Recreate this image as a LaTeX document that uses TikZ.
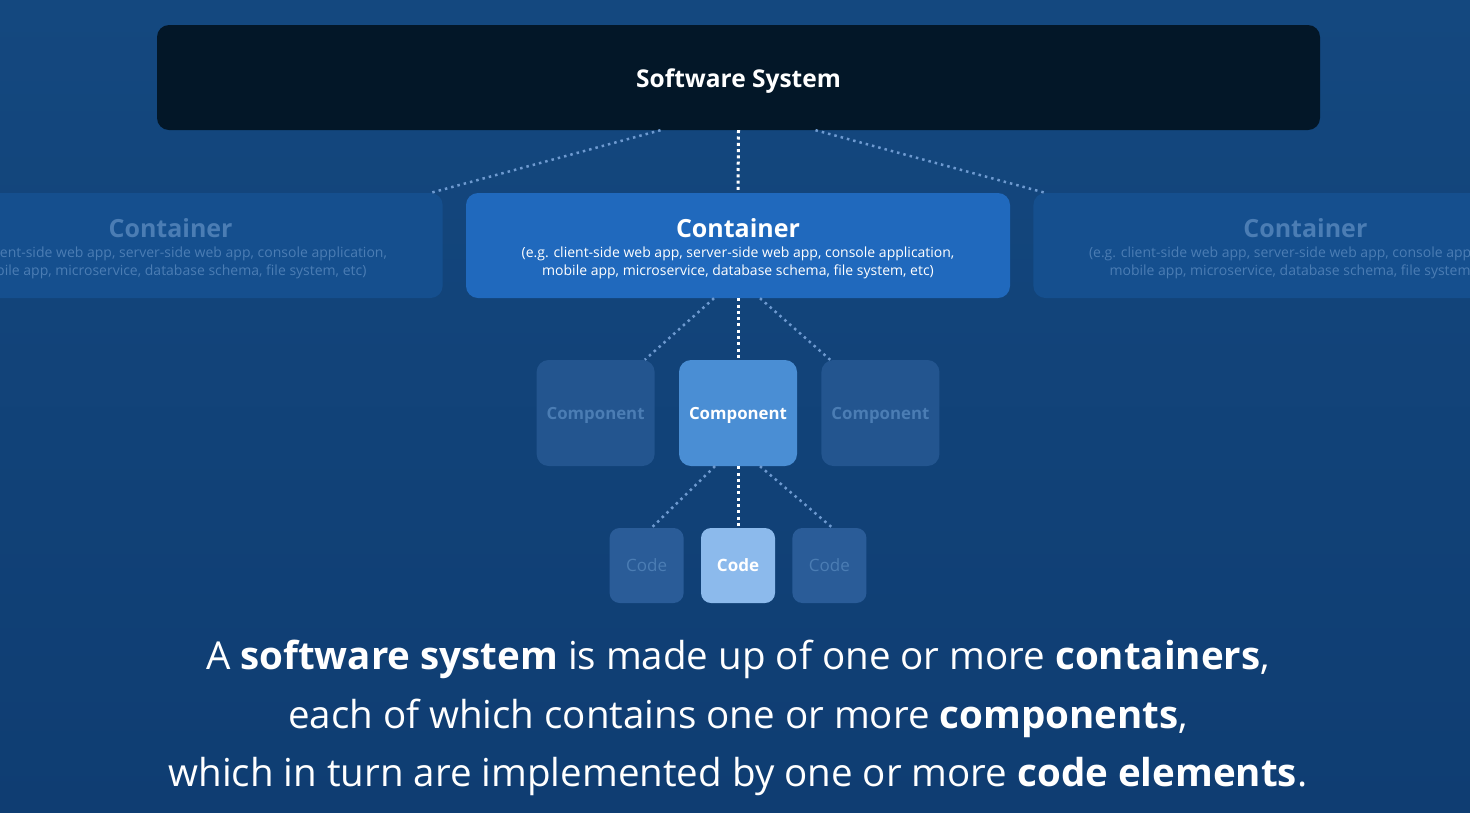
\documentclass[tikz,border=0pt]{standalone}
\usepackage{fontspec}
\setmainfont{Open Sans}
\usetikzlibrary{positioning}

\definecolor{bgtop}{HTML}{14487F}
\definecolor{bgbot}{HTML}{0F3D72}
\definecolor{sysfill}{HTML}{031728}
\definecolor{contfill}{HTML}{2069BD}
\definecolor{contdim}{HTML}{154F8E}
\definecolor{compfill}{HTML}{4A8ED4}
\definecolor{compdim}{HTML}{23558F}
\definecolor{codefill}{HTML}{8CBAEC}
\definecolor{codedim}{HTML}{2A5C98}
\definecolor{textdim}{HTML}{4B7DB4}
\definecolor{dotdim}{HTML}{6E9AD0}

\tikzset{
  box/.style={rounded corners=12pt, inner sep=0pt, align=center},
  sysbox/.style={box, fill=sysfill, minimum width=1163pt, minimum height=105pt,
    text=white, font=\fontsize{24.5}{28}\selectfont\bfseries,
    text height=25.5pt, text depth=6pt},
  contbox/.style={box, fill=contfill, minimum width=544pt, minimum height=105pt,
    text=white, font=\fontsize{14}{18}\selectfont},
  contside/.style={contbox, fill=contdim, text=textdim},
  compbox/.style={box, fill=compfill, minimum width=118pt, minimum height=106pt,
    text=white, font=\fontsize{16.8}{20}\selectfont\bfseries,
    text height=16pt, text depth=4pt},
  compside/.style={compbox, fill=compdim, text=textdim},
  codebox/.style={box, fill=codefill, minimum width=74pt, minimum height=75pt,
    rounded corners=10pt, text=white, font=\fontsize{17}{20}\selectfont\bfseries},
  codeside/.style={codebox, fill=codedim, text=textdim, font=\fontsize{17}{20}\selectfont},
  mainlink/.style={white, line width=3pt, dash pattern=on 3pt off 3.3pt},
  sidelink/.style={dotdim, line width=2.5pt, dash pattern=on 2.5pt off 4pt}
}

\newcommand{\conttext}{%
  {\rule{0pt}{26pt}\fontsize{25}{30}\selectfont\bfseries Container}\\[2pt]
  (e.g. client-side web app, server-side web app, console application,\\
  mobile app, microservice, database schema, file system, etc)}

\begin{document}
\begin{tikzpicture}[x=1pt,y=-1pt]

\useasboundingbox (0,0) rectangle (1470,812);
\clip (0,0) rectangle (1470,812);
\fill[top color=bgtop, bottom color=bgbot] (0,0) rectangle (1470,812);

%--------------------
% software system
%--------------------
\node[sysbox] (sys) at (738.5,77.5) {Software System};

%--------------------
% containers
%--------------------
\node[contbox] (cc) at (738,245.5) {\conttext};
\node[contside] (cl) [left=23pt of cc] {\conttext};
\node[contside] (cr) [right=23pt of cc] {\conttext};

%--------------------
% components
%--------------------
\node[compbox] (mc) at (738,413) {Component};
\node[compside] (ml) [left=24pt of mc] {Component};
\node[compside] (mr) [right=24pt of mc] {Component};

%--------------------
% code
%--------------------
\node[codebox] (dc) at (738,565.5) {Code};
\node[codeside] (dl) [left=17pt of dc] {Code};
\node[codeside] (dr) [right=17pt of dc] {Code};

% dotted links
\draw[mainlink] (sys.south) -- (cc.north);
\draw[sidelink] ([xshift=-78pt]sys.south) -- ([xshift=-12pt]cl.north east);
\draw[sidelink] ([xshift=77pt]sys.south) -- ([xshift=12pt]cr.north west);

\draw[mainlink] (cc.south) -- (mc.north);
\draw[sidelink] ([xshift=-24pt]cc.south) -- ([xshift=-10pt]ml.north east);
\draw[sidelink] ([xshift=22pt]cc.south) -- ([xshift=9pt]mr.north west);

\draw[mainlink] (mc.south) -- (dc.north);
\draw[sidelink] ([xshift=-23pt]mc.south) -- ([xshift=5pt]dl.north);
\draw[sidelink] ([xshift=22pt]mc.south) -- ([xshift=3pt]dr.north);

%--------------------
% caption
%--------------------
\node[align=center, text=white, font=\fontsize{38.5}{58.5}\selectfont] (caption) at (738,718)
  {A \textbf{software system} is made up of one or more \textbf{containers},\\
   each of which contains one or more \textbf{components},\\
   which in turn are implemented by one or more \textbf{code elements}.};

\end{tikzpicture}
\end{document}
